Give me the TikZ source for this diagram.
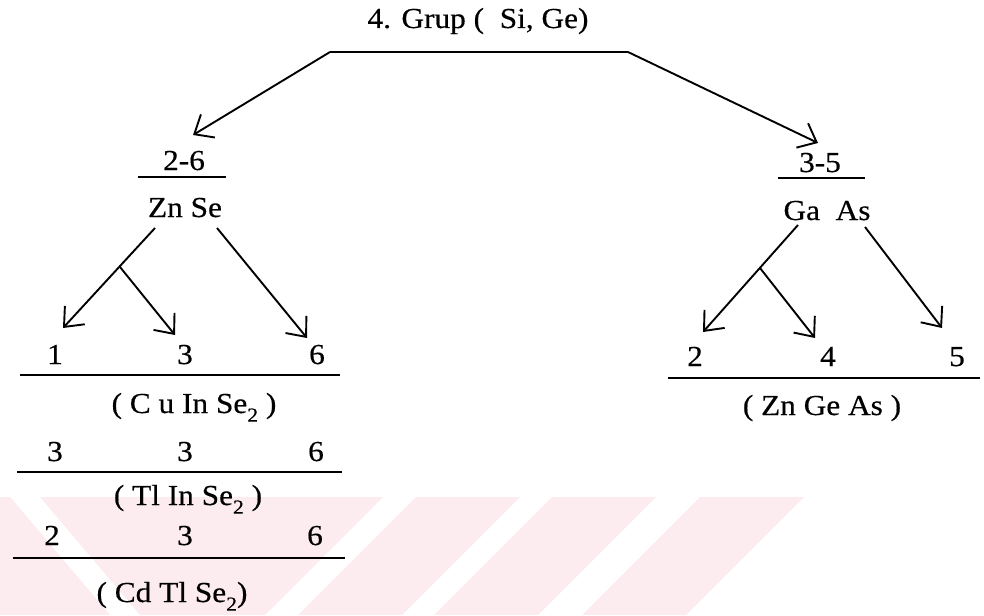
\documentclass[tikz,border=0pt]{standalone}
\usepackage{fontspec}
\setmainfont[FakeStretch=1.08,FakeBold=0.4]{Liberation Serif}
\usetikzlibrary{arrows.meta}
\definecolor{wmpink}{RGB}{252,236,239}
\newcommand\chemsub[1]{\raisebox{-0.3em}{\fontsize{20}{20}\selectfont #1}}
\begin{document}
\begin{tikzpicture}[x=1pt,y=-1pt,
  lbl/.style={anchor=base, inner sep=0pt, font=\fontsize{29}{32}\selectfont},
  rulebar/.style={line width=2.2pt},
  arr/.style={line width=1.9pt, -{Straight Barb[length=16pt,width=27pt,line width=1.9pt]}},
  wm/.style={fill=wmpink, draw=none}]
\useasboundingbox (0,0) rectangle (984,615);
\fill[white] (0,0) rectangle (984,615);
% watermark
\fill[wm] (0,497) -- (10,497) -- (110,615) -- (0,615) -- cycle;
\fill[wm] (40,497) -- (383,497) -- (265,615) -- (140,615) -- cycle;
\fill[wm] (416,497) -- (520,497) -- (402,615) -- (298,615) -- cycle;
\fill[wm] (552,497) -- (656,497) -- (538,615) -- (434,615) -- cycle;
\fill[wm] (700,497) -- (804,497) -- (686,615) -- (582,615) -- cycle;

% top
\node[lbl] (title) at (478,28) {4. Grup (~~Si, Ge)};
\coordinate (topL) at (330,52);
\coordinate (topR) at (628,52);
\draw[rulebar] (topL) -- (topR);

% left branch
\node[lbl] (g26) at (184,170) {2-6};
\coordinate (g26L) at (138,177);
\coordinate (g26R) at (226,177);
\draw[rulebar] (g26L) -- (g26R);
\node[lbl] (znse) at (185,217) {Zn Se};
\coordinate (tipL) at (193,135);
\draw[arr] (topL) -- (tipL);

% right branch
\node[lbl] (g35) at (820,172) {3-5};
\coordinate (g35L) at (778,178);
\coordinate (g35R) at (865,178);
\draw[rulebar] (g35L) -- (g35R);
\node[lbl] (gaas) at (827,220) {Ga~~As};
\coordinate (tipR) at (818,143);
\draw[arr] (topR) -- (tipR);

% ZnSe arrows
\coordinate (zsA) at (155,228);
\coordinate (zsB) at (217,228);
\coordinate (zsJ) at (120,267);
\coordinate (t1) at (63,328);
\coordinate (t3) at (175,335);
\coordinate (t6) at (307,338);
\draw[arr] (zsA) -- (t1);
\draw[arr] (zsJ) -- (t3);
\draw[arr] (zsB) -- (t6);

% GaAs arrows
\coordinate (gaA) at (798,225);
\coordinate (gaB) at (865,227);
\coordinate (gaJ) at (760,268);
\coordinate (t2) at (703,332);
\coordinate (t4) at (815,338);
\coordinate (t5) at (942,328);
\draw[arr] (gaA) -- (t2);
\draw[arr] (gaJ) -- (t4);
\draw[arr] (gaB) -- (t5);

% left table
\node[lbl] (a1) at (55,364) {1};
\node[lbl] (a2) at (185,364) {3};
\node[lbl] (a3) at (317,364) {6};
\coordinate (r1L) at (20,375);
\coordinate (r1R) at (340,375);
\draw[rulebar] (r1L) -- (r1R);
\node[lbl] (cuin) at (194,413) {( C u In Se\chemsub{2} )};

\node[lbl] (b1) at (55,461) {3};
\node[lbl] (b2) at (185,461) {3};
\node[lbl] (b3) at (316,461) {6};
\coordinate (r2L) at (17,472);
\coordinate (r2R) at (342,472);
\draw[rulebar] (r2L) -- (r2R);
\node[lbl] (tlin) at (188,505) {( Tl In Se\chemsub{2} )};

\node[lbl] (c1) at (52,545) {2};
\node[lbl] (c2) at (185,545) {3};
\node[lbl] (c3) at (315,545) {6};
\coordinate (r3L) at (13,558);
\coordinate (r3R) at (345,558);
\draw[rulebar] (r3L) -- (r3R);
\node[lbl] (cdtl) at (172,602) {( Cd Tl Se\chemsub{2})};

% right table
\node[lbl] (d1) at (695,366) {2};
\node[lbl] (d2) at (828,366) {4};
\node[lbl] (d3) at (957,366) {5};
\coordinate (r4L) at (668,378);
\coordinate (r4R) at (980,378);
\draw[rulebar] (r4L) -- (r4R);
\node[lbl] (zngeas) at (822,415) {( Zn Ge As )};
\end{tikzpicture}
\end{document}
